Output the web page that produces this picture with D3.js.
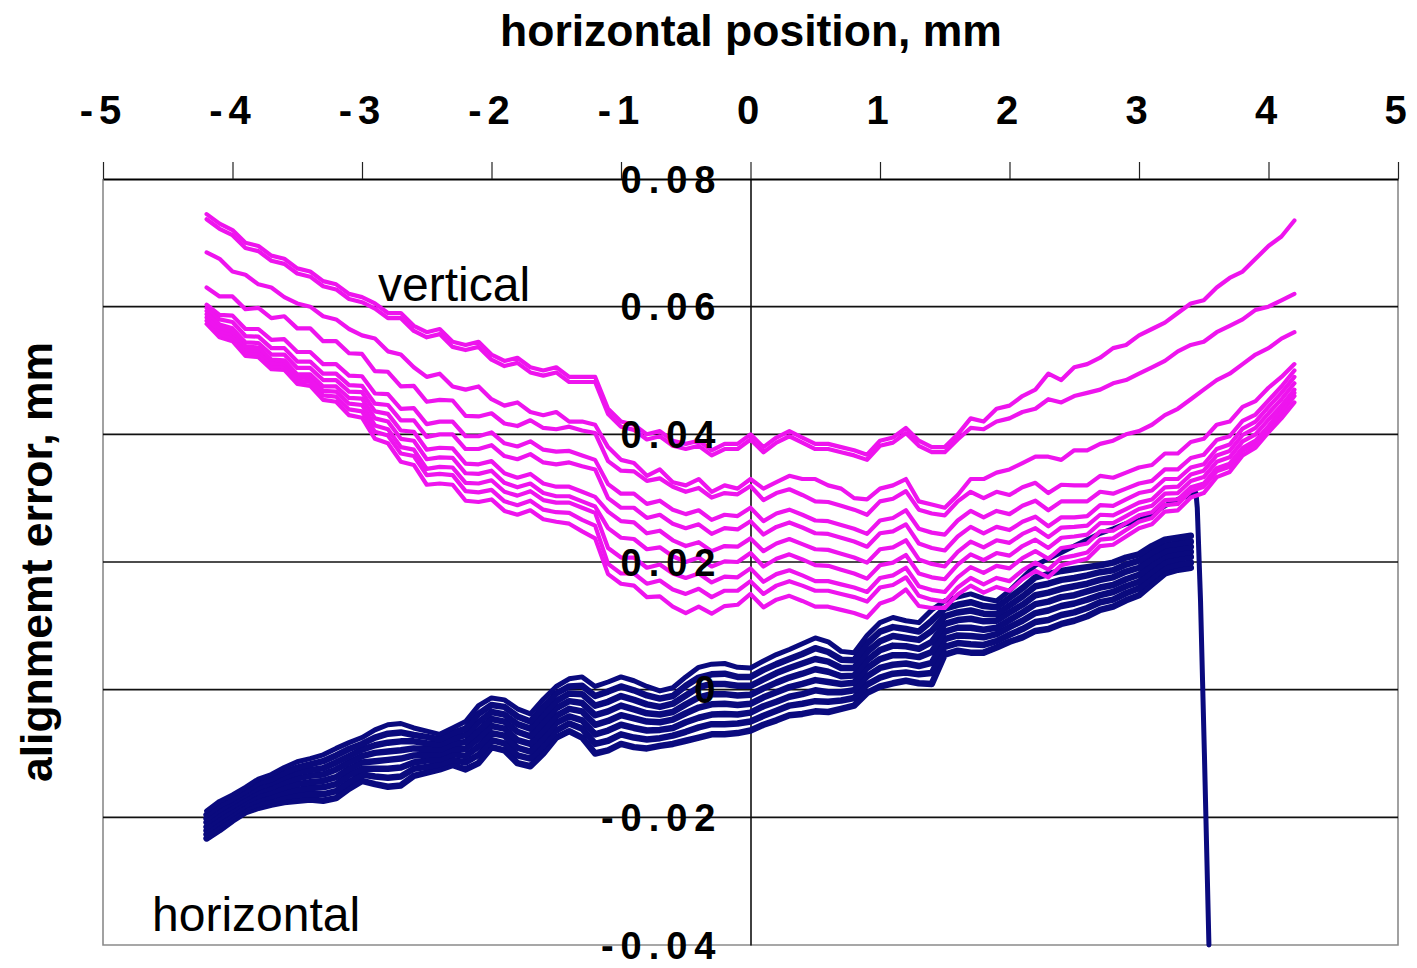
<!DOCTYPE html>
<html>
<head>
<meta charset="utf-8">
<script src="https://cdn.jsdelivr.net/npm/d3@7"></script>
<style>
  body { margin: 0; background: #fff; }
  svg { display: block; }
  text { font-family: "Liberation Sans", Arial, Helvetica, sans-serif; fill: #000; }
</style>
</head>
<body>
<svg id="chart" width="1417" height="968"></svg>
<script>
// Stage position along the scan, mm
const positionMm = [-4.2,-4.1,-4.0,-3.9,-3.8,-3.7,-3.6,-3.5,-3.4,-3.3,-3.2,-3.1,-3.0,-2.9,-2.8,-2.7,-2.6,-2.5,-2.4,-2.3,-2.2,-2.1,-2.0,-1.9,-1.8,-1.7,-1.6,-1.5,-1.4,-1.3,-1.2,-1.1,-1.0,-0.9,-0.8,-0.7,-0.6,-0.5,-0.4,-0.3,-0.2,-0.1,0.0,0.1,0.2,0.3,0.4,0.5,0.6,0.7,0.8,0.9,1.0,1.1,1.2,1.3,1.4,1.5,1.6,1.7,1.8,1.9,2.0,2.1,2.2,2.3,2.4,2.5,2.6,2.7,2.8,2.9,3.0,3.1,3.2,3.3,3.4,3.5,3.6,3.7,3.8,3.9,4.0,4.1,4.2];

// Vertical alignment error per scan, micrometres (one value per position)
const verticalScan1 = [74.5,73,72,70,69.5,68,67.5,66,65.5,64,63.5,62,61.5,60.5,59,59,57,56,56.5,54.5,54,54.5,52.5,51.5,52,50.5,50,50.5,49,49,49,44,42,41.5,40,40.5,39,38.5,39,37.5,38.5,38.5,40,38,39.5,40.5,39.5,38.5,38.5,38,37.5,36.8,39,39.5,41,39,38,38,40,42.5,42,44,44.5,46,47,49.5,48.5,50.5,51,52,53.5,54,55.5,56.5,57.5,59,60.5,61,63,64.5,65.5,67.5,69.5,71,73.5];
const verticalScan2 = [73.7,72.2,71.2,69.2,68.7,67.2,66.7,65.2,64.7,63.2,62.7,61.2,60.7,59.7,58.2,58.2,56.2,55.2,55.7,53.7,53.2,53.7,51.7,50.7,51.2,49.7,49.2,49.7,48.2,48.2,48.2,43.2,41.2,40.7,39.2,39.7,38.2,37.7,38.2,36.7,37.7,37.7,39.2,37.2,38.7,39.7,38.7,37.7,37.7,37.2,36.7,36,38.2,38.7,40.2,38.2,37.2,37.2,39.2,41,40.8,42,42.5,43.5,44,45.5,45,46,46.5,47,48,48.5,49.5,50.5,51.5,53,54,54.5,56,57,58,59.5,60,61,62];
const verticalScan3 = [68.5,67.5,65.5,65,63.5,63,61.5,60.5,60,58.5,58,56.5,55.5,55,53,52.5,50.5,49,49.5,47.5,47,47.5,45.5,44.5,45,43.5,43,43.5,42,42,41.5,38,36,35.5,33.5,34.5,32.5,32,33,31,32,31.5,33,31.5,32.5,33.5,33,33,32,31.5,30,29.8,31.5,32,33,29.5,29,28.5,30.5,33,33,34,34.5,35.5,36.5,36.5,36,37.5,37.5,38.5,39,40,40.5,41.5,43,44,45.5,47,48.5,49.5,51,52.5,53.5,55,56];
const verticalScan4 = [63,61.6,61.6,59.6,59.8,58.2,58.5,56.6,56.6,54.6,54.6,52.7,52.6,49.9,49.8,47.5,47.6,45.1,45.4,45.3,42.9,42.8,43.3,41.7,41.3,42.2,41,40.8,41.2,40.6,40.2,35.8,34.3,34.2,32.7,33.1,31.8,31,31.6,30.1,30.8,30.6,31.9,29.7,30.8,31.4,30.5,29.5,29.4,28.8,28.2,27.4,29.5,29.9,31.1,28.2,27.6,27.3,29.5,31,30,31,30.5,31.7,32.4,30.8,32.1,32,32,33.5,33.2,34,34.8,35.2,37,37,38.8,39.3,41.5,42,44.3,45.2,47.3,49,51];
const verticalScan5 = [60.3,58.7,58.6,56.5,56.5,54.8,54.9,52.9,52.9,51,51,49.2,49.1,46.4,46.3,44,44.1,41.6,42,42,39.7,39.7,40.3,38.6,38.1,38.9,37.6,37.3,37.4,36.7,36,32.2,30.7,30.7,29.1,29.6,28.2,27.5,28.1,26.6,27.4,27.2,28.5,26.4,27.6,28.2,27.4,26.5,26.4,25.8,25.2,24.4,26.5,26.9,28.1,25.2,24.6,24.3,26.5,28,27,28,27.5,28.8,29.6,28.1,29.5,29.5,29.5,31,30.7,31.5,32.3,32.7,34.5,34.5,36.3,36.8,39.1,39.7,42.1,43.1,45.3,47.5,50];
const verticalScan6 = [59.8,58,57.6,55.4,55.3,53.5,53.5,51.4,51.4,49.5,49.5,47.7,47.6,44.8,44.6,42.2,42.2,39.6,40,40,37.7,37.7,38.3,36.6,36.1,36.9,35.6,35.3,35.6,35,34.5,30,28.5,28.5,26.9,27.4,26,25.3,25.9,24.4,25.3,25.1,26.4,24.3,25.5,26.2,25.4,24.5,24.4,23.8,23.2,22.4,24.5,24.8,25.9,22.9,22.2,21.8,24,25.5,24.5,25.5,25,26.3,27.1,25.6,27,27,27.2,28.9,28.8,29.8,30.8,31.2,33,33,34.8,35.3,37.7,38.4,40.9,42,44.3,46.5,49];
const verticalScan7 = [59.3,57.2,56.6,54.4,54.3,52.5,52.5,50.4,50.4,48.5,48.5,46.7,46.6,43.6,43.2,40.6,40.4,37.6,37.9,37.8,35.4,35.3,35.8,33.9,33.2,33.8,32.3,31.8,31.8,31,30.2,27.9,26.4,26.2,24.5,24.9,23.4,22.5,23.1,21.7,22.5,22.4,23.7,21.7,22.9,23.6,22.8,22,21.9,21.3,20.7,19.9,22,22.3,23.4,20.4,19.7,19.3,21.6,23.2,22.3,23.4,23,24.4,25.3,23.9,25.4,25.5,25.7,27.4,27.3,28.3,29.3,29.8,31.7,31.8,33.7,34.3,36.7,37.4,39.9,41,43.3,45.5,48];
const verticalScan8 = [58.8,56.7,56.1,53.8,53.6,51.7,51.6,49.4,49.4,47.5,47.5,45.7,45.6,42.5,42,39.3,39,36.1,36.4,36.3,33.9,33.8,34.3,32.4,31.7,32.3,30.8,30.3,30.3,29.5,28.7,25.3,23.8,23.6,22,22.3,20.9,20,20.7,19.3,20.1,20,21.4,19.3,20.5,21.2,20.4,19.5,19.4,18.8,18.2,17.4,19.5,19.9,21.1,18.2,17.6,17.3,19.6,21.2,20.3,21.4,21,22.5,23.5,22.2,23.8,24,24.3,26.1,26.1,27.2,28.3,28.8,30.7,30.8,32.7,33.3,35.7,36.4,38.9,40,42.3,44.5,47];
const verticalScan9 = [58.3,56.2,55.6,53.3,53.1,51.2,51.1,48.9,48.8,46.8,46.7,44.8,44.6,41.4,40.8,38,37.6,34.6,34.9,34.8,32.4,32.3,32.8,31,30.4,31.1,29.7,29.3,29.3,28.5,27.7,22.2,20.7,20.7,19.1,19.6,18.2,17.5,18.2,16.8,17.7,17.6,19,16.9,18.1,18.7,17.9,17,17,16.5,16,15.3,17.5,17.9,19.1,16.2,15.6,15.3,17.6,19.2,18.3,19.4,19,20.6,21.7,20.5,22.2,22.5,22.9,24.8,24.9,26.1,27.3,27.8,29.7,29.8,31.7,32.3,34.7,35.4,37.9,39,41.3,43.8,46.5];
const verticalScan10 = [57.8,55.7,55.1,52.8,52.6,50.7,50.6,48.4,48.2,46.1,45.9,43.9,43.6,40.4,39.8,37,36.6,33.6,33.8,33.6,31.1,30.9,31.3,29.5,28.9,29.6,28.2,27.8,27.7,26.6,25.7,19.7,18.2,18.2,16.6,17.1,15.7,15,15.8,14.5,15.5,15.5,17,15,16.3,17,16.3,15.5,15.5,15,14.5,13.8,16,16.4,17.6,14.7,14.1,13.8,16,17.5,16.5,17.5,17,18.7,19.9,18.8,20.6,21,21.5,23.5,23.7,25,26.3,26.9,28.9,29.1,31.1,31.8,34.2,34.9,37.4,38.5,40.8,43.3,46];
const verticalScan11 = [57.3,55.2,54.6,52.3,52.1,50.2,50.1,47.9,47.6,45.4,45.1,43,42.6,39.3,38.6,35.7,35.2,32.1,32.3,32.1,29.6,29.4,29.8,28,27.4,28.1,26.7,26.3,26,24.8,23.7,18.1,16.6,16.3,14.5,14.6,13,12,13,11.9,13.1,13.3,15,12.9,14.1,14.7,13.9,13,13,12.5,12,11.3,13.5,14.2,15.7,13.1,12.8,12.8,14.9,16.3,15.2,16.1,15.5,17.3,18.6,17.6,19.5,20,20.5,22.5,22.7,24,25.3,25.9,27.9,28.1,30.1,30.8,33.3,34.1,36.7,37.9,40.3,42.5,45];

// Horizontal alignment error per scan, micrometres (positions -4.2 … 3.4 mm)
const horizontalScan1 = [-19,-17.5,-16.5,-15.3,-14,-13.3,-12.2,-11.3,-10.8,-10.2,-9.2,-8.3,-7.5,-6.3,-5.5,-5.3,-6,-6.5,-7,-6,-5,-2.5,-1.3,-1.6,-3,-3.8,-1.5,0.5,1.7,2,0.5,1.2,2,1.4,0.5,-0.2,0.3,2,3.5,4,4.1,3.5,3.4,4.5,5.5,6.3,7.2,8.1,7.5,6,5.8,8.5,10.5,11.3,10.8,10.5,12.5,13.9,14.5,15,14.3,13.9,15.5,17.5,19.5,20.5,21.5,22.5,23.5,24.5,25.2,26,26.5,27.5,28.8,29.8,30.5];
const horizontalScan2 = [-19.6,-18.1,-17.1,-15.9,-14.6,-14,-13,-12.2,-11.7,-11.2,-10.3,-9.3,-8.5,-7.5,-6.9,-6.7,-7.1,-7.4,-7.8,-6.8,-6.1,-3.8,-2.4,-2.7,-4.2,-5,-2.7,-0.6,0.5,0.6,-1,-0.3,0.5,-0.1,-0.9,-1.4,-1,0.6,1.9,2.4,2.5,2,2,3.1,4,4.8,5.6,6.5,5.9,4.7,4.6,7.2,9.1,9.8,9.5,9.1,10.8,12.7,13.3,13.7,13.1,12.9,14.4,15.9,17.6,18.1,18.6,18.9,19.2,19.5,19.9,20.7,21.2,22.5,23.5,23.8,24.1];
const horizontalScan3 = [-20.2,-18.8,-17.6,-16.4,-15.3,-14.6,-13.7,-13,-12.6,-12.3,-11.4,-10.4,-9.4,-8.7,-8.3,-8.1,-8.1,-8.4,-8.6,-7.7,-7.1,-5.1,-3.5,-3.9,-5.4,-6.1,-3.9,-1.8,-0.6,-0.7,-2.5,-1.9,-1,-1.6,-2.3,-2.7,-2.2,-0.9,0.4,0.9,0.9,0.6,0.6,1.6,2.6,3.4,4.1,4.8,4.4,3.4,3.4,5.9,7.6,8.4,8.1,7.8,9.2,11.5,12.1,12.4,11.9,11.8,13.2,14.6,16.2,16.6,17.2,17.5,17.9,18.4,18.7,19.6,20.2,21.5,22.6,22.9,23.2];
const horizontalScan4 = [-20.8,-19.4,-18.2,-17,-15.9,-15.3,-14.5,-13.9,-13.5,-13.3,-12.5,-11.4,-10.4,-9.9,-9.7,-9.5,-9.2,-9.3,-9.4,-8.5,-8.2,-6.4,-4.6,-5,-6.6,-7.3,-5.1,-2.9,-1.8,-2.1,-4,-3.4,-2.5,-3.1,-3.7,-3.9,-3.5,-2.3,-1.2,-0.7,-0.7,-0.9,-0.8,0.2,1.1,1.9,2.5,3.2,2.8,2.1,2.2,4.6,6.2,6.9,6.8,6.4,7.5,10.3,10.9,11.1,10.7,10.8,12.1,13.3,14.8,15.2,15.8,16.2,16.6,17.2,17.6,18.5,19.1,20.5,21.7,22.1,22.4];
const horizontalScan5 = [-21.5,-20.1,-18.8,-17.5,-16.6,-16,-15.3,-14.8,-14.5,-14.3,-13.7,-12.4,-11.4,-11.2,-11,-10.8,-10.3,-10.2,-10.1,-9.3,-9.3,-7.6,-5.7,-6.1,-7.9,-8.5,-6.4,-4.1,-3,-3.4,-5.5,-4.9,-4,-4.5,-5,-5.1,-4.7,-3.7,-2.8,-2.3,-2.2,-2.4,-2.2,-1.2,-0.4,0.4,0.9,1.5,1.2,0.9,1.1,3.4,4.8,5.4,5.4,5.1,5.9,9.1,9.7,9.7,9.4,9.7,10.9,12.1,13.4,13.8,14.5,14.8,15.4,16,16.4,17.3,18,19.5,20.9,21.3,21.6];
const horizontalScan6 = [-22.1,-20.7,-19.4,-18.1,-17.2,-16.7,-16.1,-15.7,-15.4,-15.3,-14.8,-13.4,-12.4,-12.4,-12.4,-12.2,-11.4,-11.1,-10.9,-10.1,-10.4,-8.9,-6.8,-7.2,-9.1,-9.7,-7.6,-5.2,-4.2,-4.8,-7,-6.4,-5.5,-6,-6.4,-6.3,-6,-5.1,-4.4,-3.9,-3.8,-3.9,-3.6,-2.6,-1.9,-1.1,-0.7,-0.1,-0.4,-0.4,-0.1,2.1,3.4,3.9,4.1,3.7,4.2,7.9,8.5,8.4,8.2,8.7,9.8,10.8,12,12.4,13.1,13.5,14.1,14.8,15.3,16.2,16.9,18.5,20,20.5,20.8];
const horizontalScan7 = [-22.7,-21.4,-19.9,-18.6,-17.9,-17.3,-16.8,-16.5,-16.3,-16.4,-15.9,-14.5,-13.3,-13.6,-13.8,-13.6,-12.4,-12.1,-11.7,-11,-11.4,-10.2,-7.9,-8.4,-10.3,-10.8,-8.8,-6.4,-5.3,-6.1,-8.5,-8,-7,-7.5,-7.8,-7.6,-7.2,-6.6,-5.9,-5.4,-5.4,-5.3,-5,-4.1,-3.3,-2.5,-2.2,-1.8,-1.9,-1.7,-1.3,0.8,1.9,2.5,2.7,2.4,2.6,6.7,7.3,7.1,7,7.6,8.6,9.5,10.6,10.9,11.7,12.1,12.8,13.7,14.1,15.1,15.9,17.5,19.1,19.6,19.9];
const horizontalScan8 = [-23.3,-22,-20.5,-19.2,-18.5,-18,-17.6,-17.4,-17.2,-17.4,-17,-15.5,-14.3,-14.8,-15.2,-15,-13.5,-13,-12.5,-11.8,-12.5,-11.5,-9,-9.5,-11.5,-12,-10,-7.5,-6.5,-7.5,-10,-9.5,-8.5,-9,-9.2,-8.8,-8.5,-8,-7.5,-7,-7,-6.8,-6.4,-5.5,-4.8,-4,-3.8,-3.4,-3.5,-3,-2.5,-0.5,0.5,1,1.4,1,0.9,5.5,6.1,5.8,5.8,6.6,7.5,8.2,9.2,9.5,10.3,10.8,11.5,12.5,13,14,14.8,16.5,18.2,18.8,19.1];

// End of the first horizontal scan: the run-off at the end of travel
const horizontalTailMm = [3.44, 3.45, 3.475, 3.505, 3.54];
const horizontalTailUm = [30.8, 28.5, 14, -10, -40];

const xTickValues = [-5, -4, -3, -2, -1, 0, 1, 2, 3, 4, 5];
const xTickLabels = ["-5", "-4", "-3", "-2", "-1", "0", "1", "2", "3", "4", "5"];
const yTickValues = [80, 60, 40, 20, 0, -20, -40];
const yTickLabels = ["0.08", "0.06", "0.04", "0.02", "0", "-0.02", "-0.04"];

(function () {
  const verticalScans = [verticalScan11, verticalScan10, verticalScan9, verticalScan8, verticalScan7,
    verticalScan6, verticalScan5, verticalScan4, verticalScan3, verticalScan2, verticalScan1];
  const horizontalScans = [horizontalScan8, horizontalScan7, horizontalScan6, horizontalScan5,
    horizontalScan4, horizontalScan3, horizontalScan2, horizontalScan1];

  const svg = d3.select("#chart");
  const plotLeft = 103, plotRight = 1398, plotTop = 179, plotBottom = 945;

  const x = d3.scaleLinear().domain([-5, 5]).range([plotLeft, plotRight]);
  const y = d3.scaleLinear().domain([-40, 80]).range([plotBottom, plotTop]);

  // Plot frame (left, bottom, right)
  svg.append("path")
    .attr("d", `M${plotLeft},${plotTop}V${plotBottom}H${plotRight}V${plotTop}`)
    .attr("fill", "none").attr("stroke", "#8a8a8a").attr("stroke-width", 1.6);

  // Horizontal gridlines
  svg.append("g").selectAll("line")
    .data(yTickValues.filter(v => v !== 80 && v !== -40))
    .join("line")
    .attr("x1", plotLeft).attr("x2", plotRight)
    .attr("y1", d => y(d)).attr("y2", d => y(d))
    .attr("stroke", "#111").attr("stroke-width", 1.6);

  // Vertical axis through x = 0 (its labels are drawn last, on top)
  const yAxisG = svg.append("g").attr("transform", `translate(${x(0)},0)`)
    .call(d3.axisLeft(y).tickValues(yTickValues).tickSize(0).tickFormat(""));
  yAxisG.select(".domain").attr("stroke", "#111").attr("stroke-width", 1.6);

  const line = d3.line().x(d => x(d[0])).y(d => y(d[1]));

  // Horizontal scans (beneath the vertical ones)
  const navy = svg.append("g").attr("fill", "none").attr("stroke", "#0a0a7e")
    .attr("stroke-width", 6.5).attr("stroke-linejoin", "round").attr("stroke-linecap", "round");
  horizontalScans.forEach(scan => {
    let pts = scan.map((v, i) => [positionMm[i], v]);
    if (scan === horizontalScan1) {
      pts = pts.concat(horizontalTailMm.map((p, i) => [p, horizontalTailUm[i]]));
    }
    navy.append("path").attr("d", line(pts))
      .attr("stroke-width", scan === horizontalScan1 ? 5 : null);
  });

  // Vertical scans
  const magenta = svg.append("g").attr("fill", "none").attr("stroke", "#ee14ee")
    .attr("stroke-width", 4.2).attr("stroke-linejoin", "round").attr("stroke-linecap", "round");
  verticalScans.forEach(scan => {
    magenta.append("path").attr("d", line(scan.map((v, i) => [positionMm[i], v])));
  });

  // Top axis
  const xAxis = d3.axisTop(x).tickValues(xTickValues).tickSize(17).tickSizeOuter(0)
    .tickPadding(38).tickFormat((d, i) => xTickLabels[i]);
  const xAxisG = svg.append("g").attr("transform", `translate(0,${plotTop})`).call(xAxis);
  xAxisG.select(".domain").attr("stroke", "#000").attr("stroke-width", 2.2);
  xAxisG.selectAll(".tick line").attr("stroke", "#222").attr("stroke-width", 1.2);
  xAxisG.selectAll(".tick text")
    .style("font-family", '"Liberation Sans", Arial, sans-serif')
    .style("font-weight", "bold").style("font-size", "40px")
    .style("letter-spacing", "6px").attr("fill", "#000");

  // Value labels along the vertical axis
  svg.append("g").selectAll("text")
    .data(yTickValues)
    .join("text")
    .attr("x", x(0) - 28)
    .attr("y", d => y(d))
    .attr("dy", "0.36em")
    .attr("text-anchor", "end")
    .style("font-weight", "bold").style("font-size", "38px").style("letter-spacing", "7px")
    .text((d, i) => yTickLabels[i]);

  // Axis titles
  svg.append("text").attr("x", 751).attr("y", 46).attr("text-anchor", "middle")
    .style("font-weight", "bold").style("font-size", "44.5px")
    .text("horizontal position, mm");
  svg.append("text").attr("transform", "translate(52,562) rotate(-90)").attr("text-anchor", "middle")
    .style("font-weight", "bold").style("font-size", "44.5px")
    .text("alignmemt error, mm");

  // Series labels
  svg.append("text").attr("x", 378).attr("y", 301)
    .style("font-size", "48px").text("vertical");
  svg.append("text").attr("x", 152).attr("y", 931)
    .style("font-size", "48px").text("horizontal");
})();
</script>
</body>
</html>
